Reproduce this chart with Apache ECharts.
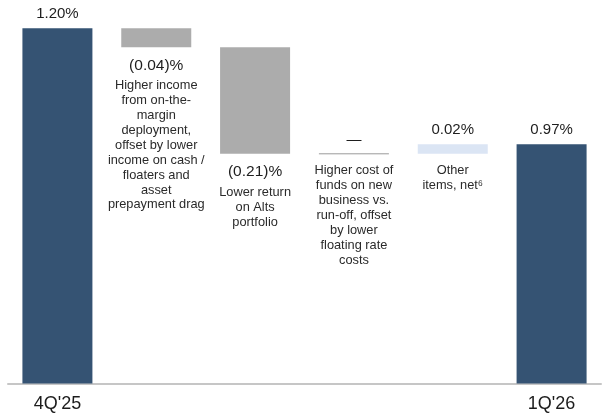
<!DOCTYPE html>
<html>
<head>
<meta charset="utf-8">
<script src="https://cdn.jsdelivr.net/npm/echarts@6/dist/echarts.min.js"></script>
<style>
html,body{margin:0;padding:0;background:#fff;}
#chart{width:603px;height:417px;}
</style>
</head>
<body>
<div id="chart"></div>
<script>
// Categories of the walk
const categories = ["4Q'25", "Portfolio", "Alts", "Funding", "Other", "1Q'26"];
const axisLabels = ["4Q'25", "", "", "", "", "1Q'26"];
// Printed values
const valueLabels = ["1.20%", "(0.04)%", "(0.21)%", "\u2014", "0.02%", "0.97%"];
// Drawn bar sizes as they appear in the reference (not to printed scale), in units where 4Q'25 = 1.20
const drawnSteps = [1.20, -0.064, -0.360, 0, 0.032, null]; // last one is the total
const barKinds = ["total", "step", "step", "step", "step", "total"];
const descriptions = [
  "",
  "Higher income\nfrom on-the-\nmargin\ndeployment,\noffset by lower\nincome on cash /\nfloaters and\nasset\nprepayment drag",
  "Lower return\non Alts\nportfolio",
  "Higher cost of\nfunds on new\nbusiness vs.\nrun-off, offset\nby lower\nfloating rate\ncosts",
  "Other\nitems, net\u2076",
  ""
];
const valueLabelPos = ["above", "below", "below", "above", "above", "above"];

const colors = {
  total: '#355373',
  neg: '#acacac',
  pos: '#dbe5f4'
};

// Build waterfall geometry
let running = 0;
const baseData = [], barData = [], spans = [];
drawnSteps.forEach((s, i) => {
  if (barKinds[i] === 'total') {
    const v = (s === null) ? running : s;
    running = v;
    baseData.push(0);
    barData.push({value: v, itemStyle: {color: colors.total}});
    spans.push([i, v, 0]);
  } else {
    const lo = Math.min(running, running + s);
    const hi = Math.max(running, running + s);
    baseData.push(lo);
    barData.push({value: hi - lo, itemStyle: {color: s < 0 ? colors.neg : colors.pos}});
    spans.push([i, hi, lo]);
    running = running + s;
  }
});

const FONT = '"Liberation Sans", Arial, sans-serif';

const chart = echarts.init(document.getElementById('chart'));
chart.setOption({
  animation: false,
  grid: {left: 8, right: 2, top: 28.3, bottom: 33.5},
  xAxis: {
    type: 'category',
    data: categories,
    axisTick: {show: false},
    axisLine: {lineStyle: {color: '#c6c6c6', width: 2}},
    axisLabel: {
      formatter: (v, idx) => axisLabels[idx],
      fontSize: 18, color: '#1c1c1c', fontFamily: FONT, margin: 12, interval: 0
    }
  },
  yAxis: {type: 'value', min: 0, max: 1.2, show: false},
  series: [
    {
      type: 'bar', stack: 'w', barWidth: 70,
      itemStyle: {color: 'transparent'},
      data: baseData, silent: true
    },
    {
      type: 'bar', stack: 'w', barWidth: 70,
      data: barData
    },
    {
      type: 'custom',
      data: spans,
      z: 10,
      renderItem: function (params, api) {
        const i = api.value(0);
        const top = api.coord([i, api.value(1)]);
        const bot = api.coord([i, api.value(2)]);
        const bw = api.size([1, 0])[0] * 70 / 98.83;
        const cx = top[0];
        const children = [];
        const isZero = Math.abs(api.value(1) - api.value(2)) < 1e-9;
        if (isZero) {
          children.push({
            type: 'line',
            shape: {x1: cx - bw / 2, y1: bot[1], x2: cx + bw / 2, y2: bot[1]},
            style: {stroke: '#9a9a9a', lineWidth: 1}
          });
        }
        let descTop;
        if (valueLabelPos[i] === 'above') {
          children.push({
            type: 'text',
            style: {text: valueLabels[i], x: cx, y: top[1] - 14, align: 'center', verticalAlign: 'middle',
                    fontSize: 15, fontFamily: FONT, fill: '#1e1e1e'}
          });
          descTop = bot[1] + 17;
        } else {
          const ly = bot[1] + 18;
          children.push({
            type: 'text',
            style: {text: valueLabels[i], x: cx, y: ly, align: 'center', verticalAlign: 'middle',
                    fontSize: 15.5, fontFamily: FONT, fill: '#1e1e1e'}
          });
          descTop = ly + 20.5;
        }
        if (descriptions[i]) {
          children.push({
            type: 'text',
            style: {text: descriptions[i], x: cx, y: descTop - 7.5, align: 'center', verticalAlign: 'top',
                    fontSize: 12.8, lineHeight: 14.9, fontFamily: FONT, fill: '#2a2a2a'}
          });
        }
        return {type: 'group', children: children};
      }
    }
  ]
});
</script>
</body>
</html>
